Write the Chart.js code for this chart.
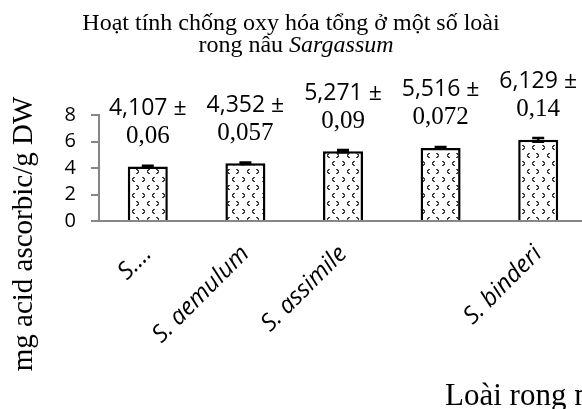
<!DOCTYPE html>
<html>
<head>
<meta charset="utf-8">
<script src="https://cdn.jsdelivr.net/npm/chart.js@4.4.1/dist/chart.umd.min.js"></script>
<style>
  html, body { margin: 0; padding: 0; background: #fff; overflow: hidden; }
  #wrap { width: 582px; height: 409px; overflow: hidden; }
</style>
</head>
<body>
<div id="wrap"><canvas id="chart" width="600" height="409"></canvas></div>
<script>
// data
const species = ['S.\u2026', 'S. aemulum', 'S. assimile', '', 'S. binderi'];
const activity = [4.107, 4.352, 5.271, 5.516, 6.129];
const errors = [0.06, 0.057, 0.09, 0.072, 0.14];
const yTicks = [0, 2, 4, 6, 8];

const titleLine1 = 'Hoạt tính chống oxy hóa tổng ở một số loài';
const titleLine2 = 'rong nâu ';
const titleItalic = 'Sargassum';
const yTitle = 'mg acid ascorbic/g DW';
const xTitle = 'Loài rong nâu';

const axisGray = '#868686';

function dottedPattern() {
  const tile = document.createElement('canvas');
  tile.width = 20;
  tile.height = 16;
  const c = tile.getContext('2d');
  c.fillStyle = '#fff';
  c.fillRect(0, 0, 20, 16);
  c.fillStyle = '#3c3c3c';
  const right = (x, y) => {
    c.fillRect(x, y, 2, 1); c.fillRect(x + 1, y + 1, 2, 1);
    c.fillRect(x + 2, y + 2, 1, 1); c.fillRect(x + 1, y + 3, 2, 1); c.fillRect(x, y + 4, 2, 1);
  };
  const left = (x, y) => {
    c.fillRect(x + 1, y, 2, 1); c.fillRect(x, y + 1, 2, 1);
    c.fillRect(x, y + 2, 1, 1); c.fillRect(x, y + 3, 2, 1); c.fillRect(x + 1, y + 4, 2, 1);
  };
  right(2, 1); left(12, 1);
  left(7, 9); right(16, 9);
  return c.createPattern(tile, 'repeat');
}

const fmt = v => String(v).replace('.', ',');

// error bars, value labels and the hand-placed titles
const extras = {
  id: 'extras',
  afterDatasetsDraw(chart) {
    const ctx = chart.ctx;
    const y = chart.scales.y;
    const bars = chart.getDatasetMeta(0).data;
    ctx.save();
    ctx.strokeStyle = '#000';
    ctx.lineWidth = 2.5;
    bars.forEach((bar, i) => {
      const hi = y.getPixelForValue(activity[i] + errors[i]);
      const lo = y.getPixelForValue(activity[i] - errors[i]);
      ctx.beginPath();
      ctx.moveTo(bar.x, hi); ctx.lineTo(bar.x, lo);
      ctx.moveTo(bar.x - 6, hi); ctx.lineTo(bar.x + 6, hi);
      ctx.moveTo(bar.x - 6, lo); ctx.lineTo(bar.x + 6, lo);
      ctx.stroke();
    });

    ctx.fillStyle = '#000';
    ctx.textAlign = 'center';
    ctx.textBaseline = 'middle';
    bars.forEach((bar, i) => {
      ctx.font = '23px "Open Sans"';
      ctx.fillText(fmt(activity[i]) + ' \u00b1', bar.x, bar.y - 58);
      ctx.font = '25px "Liberation Serif"';
      ctx.fillText(fmt(errors[i]), bar.x, bar.y - 30);
    });
    ctx.restore();
  },
  afterDraw(chart) {
    const ctx = chart.ctx;
    ctx.save();
    ctx.fillStyle = '#000';
    ctx.textBaseline = 'alphabetic';

    // chart title, two lines, second one partly italic
    ctx.textAlign = 'center';
    ctx.font = '24px "Liberation Serif"';
    ctx.fillText(titleLine1, 291, 30);
    const w1 = ctx.measureText(titleLine2).width;
    ctx.font = 'italic 24px "Liberation Serif"';
    const w2 = ctx.measureText(titleItalic).width;
    const start = 296 - (w1 + w2) / 2;
    ctx.textAlign = 'left';
    ctx.font = '24px "Liberation Serif"';
    ctx.fillText(titleLine2, start, 52);
    ctx.font = 'italic 24px "Liberation Serif"';
    ctx.fillText(titleItalic, start + w1, 52);

    // x axis title (runs off the right edge like the original)
    ctx.font = '31px "Liberation Serif"';
    ctx.fillText(xTitle, 445, 405);

    // y axis title
    ctx.font = '29px "Liberation Serif"';
    ctx.translate(24, 234);
    ctx.rotate(-Math.PI / 2);
    ctx.textAlign = 'center';
    ctx.textBaseline = 'middle';
    ctx.fillText(yTitle, 0, 0);
    ctx.restore();
  }
};

new Chart(document.getElementById('chart'), {
  type: 'bar',
  data: {
    labels: species,
    datasets: [{
      data: activity,
      backgroundColor: dottedPattern(),
      borderColor: '#000',
      borderWidth: 2.5,
      barPercentage: 0.41,
      categoryPercentage: 1
    }]
  },
  options: {
    responsive: false,
    devicePixelRatio: 1,
    animation: false,
    layout: { padding: { top: 115, right: 13, left: 0, bottom: 0 } },
    plugins: {
      legend: { display: false },
      title: { display: false },
      tooltip: { enabled: false }
    },
    scales: {
      x: {
        grid: { display: false },
        border: { color: axisGray, width: 2 },
        ticks: {
          autoSkip: false,
          maxRotation: 45,
          minRotation: 45,
          padding: 11,
          color: '#000',
          font: { family: '"Open Sans"', size: 24, style: 'italic' }
        },
        afterFit(scale) { scale.height = 188; }
      },
      y: {
        min: 0,
        max: 8,
        afterBuildTicks(scale) { scale.ticks = yTicks.map(v => ({ value: v })); },
        grid: { drawOnChartArea: false, drawTicks: true, tickLength: 8, color: axisGray, lineWidth: 2 },
        border: { color: axisGray, width: 2 },
        ticks: {
          autoSkip: false,
          padding: 15,
          color: '#000',
          font: { family: '"Open Sans"', size: 20 }
        },
        afterFit(scale) { scale.width = 99; }
      }
    }
  },
  plugins: [extras]
});
</script>
</body>
</html>
